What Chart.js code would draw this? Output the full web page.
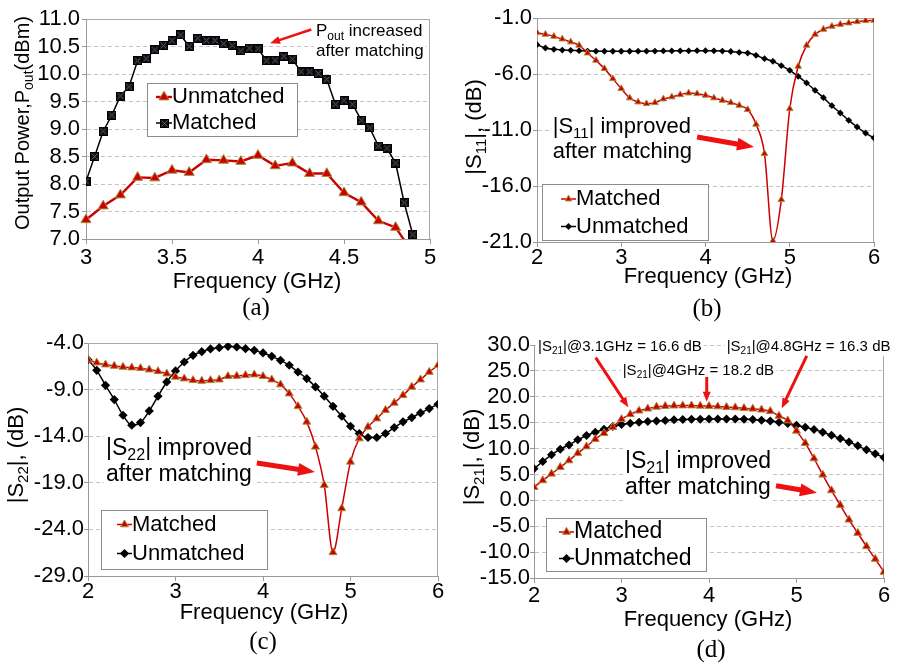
<!DOCTYPE html>
<html><head><meta charset="utf-8">
<script src="https://cdn.jsdelivr.net/npm/chart.js@4.4.1/dist/chart.umd.min.js"></script>
<style>
html,body{margin:0;padding:0;background:#fff}
body{width:899px;height:664px;position:relative;overflow:hidden}
canvas{position:absolute;display:block}
</style></head><body>
<canvas id="cA"></canvas><canvas id="cB"></canvas><canvas id="cC"></canvas><canvas id="cD"></canvas>
<script>
// ---------------- DATA ----------------
// (a) Output power vs frequency
const freqA_matched = [3.00,3.05,3.10,3.15,3.20,3.25,3.30,3.35,3.40,3.45,3.50,3.55,3.60,3.65,3.70,3.75,3.80,3.85,3.90,3.95,4.00,4.05,4.10,4.15,4.20,4.25,4.30,4.35,4.40,4.45,4.50,4.55,4.60,4.65,4.70,4.75,4.80,4.85,4.90];
const poutMatched = [8.05,8.50,8.96,9.25,9.60,9.77,10.24,10.28,10.44,10.52,10.61,10.71,10.50,10.65,10.61,10.61,10.55,10.52,10.42,10.47,10.46,10.24,10.25,10.32,10.27,10.04,10.04,10.01,9.90,9.45,9.52,9.45,9.16,9.02,8.69,8.65,8.38,7.66,7.08];
const freqA_unmatched = [3.0,3.1,3.2,3.3,3.4,3.5,3.6,3.7,3.8,3.9,4.0,4.1,4.2,4.3,4.4,4.5,4.6,4.7,4.8,4.9];
const poutUnmatched = [7.35,7.60,7.80,8.12,8.11,8.25,8.21,8.44,8.43,8.41,8.52,8.33,8.38,8.19,8.19,7.84,7.67,7.33,7.21,6.75];

// (b)-(d) S-parameters vs frequency
const freqS = [2.0,2.1,2.2,2.3,2.4,2.5,2.6,2.7,2.8,2.9,3.0,3.1,3.2,3.3,3.4,3.5,3.6,3.7,3.8,3.9,4.0,4.1,4.2,4.3,4.4,4.5,4.6,4.7,4.8,4.9,5.0,5.1,5.2,5.3,5.4,5.5,5.6,5.7,5.8,5.9,6.0];
const s11Matched = [-2.31,-2.46,-2.64,-2.88,-3.14,-3.44,-4.13,-4.78,-5.52,-6.42,-7.31,-8.14,-8.50,-8.65,-8.56,-8.23,-8.05,-7.85,-7.70,-7.76,-7.90,-8.14,-8.35,-8.56,-8.80,-9.18,-10.49,-13.11,-20.9,-17.22,-9.10,-5.32,-3.44,-2.46,-2.01,-1.74,-1.57,-1.45,-1.33,-1.24,-1.21];
const s11Unmatched = [-3.38,-3.68,-3.80,-3.86,-3.89,-3.92,-3.95,-3.96,-3.97,-3.97,-3.97,-3.97,-3.96,-3.96,-3.95,-3.94,-3.94,-3.93,-3.93,-3.92,-3.92,-3.93,-3.95,-3.99,-4.07,-4.13,-4.33,-4.63,-4.87,-5.26,-5.67,-6.21,-6.80,-7.46,-8.11,-8.83,-9.48,-10.14,-10.73,-11.27,-11.71];
const s22Matched = [-5.79,-6.11,-6.32,-6.46,-6.57,-6.64,-6.71,-6.86,-7.04,-7.29,-7.64,-7.82,-8.00,-8.07,-8.00,-7.93,-7.57,-7.54,-7.46,-7.39,-7.57,-7.93,-8.46,-9.43,-10.79,-12.46,-15.14,-19.25,-26.46,-21.75,-16.75,-14.25,-13.00,-12.11,-11.21,-10.43,-9.61,-8.71,-7.93,-7.11,-6.39];
const s22Unmatched = [-5.79,-6.93,-8.54,-10.07,-11.75,-12.82,-12.54,-11.29,-9.71,-8.18,-7.00,-6.04,-5.32,-4.93,-4.64,-4.50,-4.36,-4.43,-4.61,-4.79,-5.07,-5.43,-5.86,-6.39,-7.11,-7.82,-8.71,-9.71,-10.79,-11.86,-12.93,-13.71,-14.14,-14.14,-13.71,-13.07,-12.46,-12.00,-11.50,-11.04,-10.57];
const s21Matched = [2.55,3.84,5.12,6.41,7.69,9.11,10.39,11.81,12.96,14.12,15.66,16.6,17.3,17.7,18.05,18.2,18.28,18.3,18.3,18.25,18.2,18.12,18.0,17.93,17.8,17.68,17.5,17.22,16.3,15.41,13.42,11.04,8.08,4.93,1.91,-0.92,-3.75,-6.32,-8.89,-11.33,-13.84];
const s21Unmatched = [6.09,7.50,8.79,9.88,10.71,11.68,12.51,13.16,13.74,14.25,14.64,14.89,15.09,15.21,15.34,15.41,15.54,15.60,15.66,15.66,15.73,15.73,15.73,15.73,15.66,15.60,15.47,15.34,15.09,14.83,14.51,14.12,13.67,13.16,12.58,11.94,11.29,10.52,9.75,8.98,8.27];

// tick values / labels
const xTicksA = [3,3.5,4,4.5,5];
const xLabelsA = ['3','3.5','4','4.5','5'];
const yTicksA = [7,7.5,8,8.5,9,9.5,10,10.5,11];
const yLabelsA = ['7.0','7.5','8.0','8.5','9.0','9.5','10.0','10.5','11.0'];
const xTicksS = [2,3,4,5,6];
const xLabelsS = ['2','3','4','5','6'];
const yTicksB = [-21,-16,-11,-6,-1];
const yLabelsB = ['-21.0','-16.0','-11.0','-6.0','-1.0'];
const yTicksC = [-29,-24,-19,-14,-9,-4];
const yLabelsC = ['-29.0','-24.0','-19.0','-14.0','-9.0','-4.0'];
const yTicksD = [-15,-10,-5,0,5,10,15,20,25,30];
const yLabelsD = ['-15.0','-10.0','-5.0','0.0','5.0','10.0','15.0','20.0','25.0','30.0'];

// ---------------- STYLE / HELPERS ----------------
const SANS = "'Liberation Sans', Arial, Helvetica, sans-serif";
const SERIF = "'Liberation Serif', 'Times New Roman', serif";
Chart.defaults.font.family = SANS;
Chart.defaults.color = '#000';
const RED = '#cc0000', TRI_EDGE = '#a88a3a';

function crossSquare(n) {
  const c = document.createElement('canvas'); c.width = n; c.height = n;
  const g = c.getContext('2d');
  g.fillStyle = '#101018'; g.fillRect(0, 0, n, n);
  g.strokeStyle = '#5c5c5c'; g.lineWidth = 1;
  g.beginPath(); g.moveTo(1.5, 1.5); g.lineTo(n - 1.5, n - 1.5); g.moveTo(n - 1.5, 1.5); g.lineTo(1.5, n - 1.5); g.stroke();
  g.strokeStyle = '#000'; g.strokeRect(0.5, 0.5, n - 1, n - 1);
  return c;
}
const SQ = crossSquare(9);

function pts(xs, ys) { return xs.map((x, i) => ({x: x, y: ys[i]})); }

function redSet(label, data, r, lw, extra) {
  return Object.assign({label, data, borderColor: RED, backgroundColor: RED, borderWidth: lw,
    pointStyle: 'triangle', pointRadius: r, pointHoverRadius: r,
    pointBackgroundColor: RED, pointBorderColor: TRI_EDGE, pointBorderWidth: 1}, extra || {});
}
function blackSet(label, data, style, r, lw, extra) {
  return Object.assign({label, data, borderColor: '#000', backgroundColor: '#000', borderWidth: lw,
    pointStyle: style, pointRadius: r, pointHoverRadius: r,
    pointBackgroundColor: '#000', pointBorderColor: '#000', pointBorderWidth: 0}, extra || {});
}

function drawMarker(ctx, style, x, y, r, fill, stroke, bw) {
  ctx.save();
  if (style instanceof HTMLCanvasElement) {
    ctx.drawImage(style, Math.round(x - style.width / 2), Math.round(y - style.height / 2));
    ctx.restore(); return;
  }
  ctx.beginPath();
  if (style === 'triangle') {
    const a = 2 * Math.PI / 3;
    ctx.moveTo(x, y - r);
    ctx.lineTo(x + r * Math.sin(a), y - r * Math.cos(a));
    ctx.lineTo(x + r * Math.sin(2 * a), y - r * Math.cos(2 * a));
    ctx.closePath();
  } else {
    ctx.moveTo(x - r, y); ctx.lineTo(x, y - r); ctx.lineTo(x + r, y); ctx.lineTo(x, y + r); ctx.closePath();
  }
  ctx.fillStyle = fill; ctx.fill();
  if (bw) { ctx.lineWidth = bw; ctx.strokeStyle = stroke; ctx.stroke(); }
  ctx.restore();
}

function setF(ctx, size, sub, fam) { ctx.font = (sub ? Math.round(size * 0.68) : size) + 'px ' + (fam || SANS); }
function richWidth(ctx, parts, size, fam) {
  let w = 0;
  parts.forEach(p => { setF(ctx, size, p.sub, fam); w += ctx.measureText(p.t).width; });
  return w;
}
function drawRich(ctx, parts, x, y, size, align, rot, fam) {
  ctx.save();
  ctx.translate(x, y);
  if (rot) ctx.rotate(-Math.PI / 2);
  const w = richWidth(ctx, parts, size, fam);
  let cx = align === 'center' ? -w / 2 : 0;
  ctx.textBaseline = 'middle'; ctx.textAlign = 'left'; ctx.fillStyle = '#000';
  parts.forEach(p => {
    setF(ctx, size, p.sub, fam);
    ctx.fillText(p.t, cx, p.sub ? size * 0.3 : 0);
    cx += ctx.measureText(p.t).width;
  });
  ctx.restore();
  return w;
}
function arrow(ctx, x1, y1, x2, y2, w, hl, hw) {
  const ang = Math.atan2(y2 - y1, x2 - x1);
  const bx = x2 - hl * Math.cos(ang), by = y2 - hl * Math.sin(ang);
  ctx.save();
  ctx.strokeStyle = '#ee1111'; ctx.fillStyle = '#ee1111'; ctx.lineWidth = w; ctx.lineCap = 'butt';
  ctx.beginPath(); ctx.moveTo(x1, y1); ctx.lineTo(bx + Math.cos(ang), by + Math.sin(ang)); ctx.stroke();
  ctx.beginPath(); ctx.moveTo(x2, y2);
  ctx.lineTo(bx + hw / 2 * Math.sin(ang), by - hw / 2 * Math.cos(ang));
  ctx.lineTo(bx - hw / 2 * Math.sin(ang), by + hw / 2 * Math.cos(ang));
  ctx.closePath(); ctx.fill();
  ctx.restore();
}

function panelPlugin(p) {
  return {
    id: 'panel' + p.id,
    beforeDatasetsDraw(chart) {
      const ctx = chart.ctx, a = chart.chartArea;
      ctx.save();
      ctx.strokeStyle = '#a8a8a8'; ctx.lineWidth = 1;
      ctx.beginPath();
      if (!p.noTop) {
        ctx.moveTo(Math.round(a.left), Math.round(a.top) + 0.5); ctx.lineTo(Math.round(a.right), Math.round(a.top) + 0.5);
      }
      ctx.moveTo(Math.round(a.right) - 0.5, Math.round(a.top)); ctx.lineTo(Math.round(a.right) - 0.5, Math.round(a.bottom));
      ctx.stroke();
      ctx.restore();
      const xs = chart.scales.x, ys = chart.scales.y;
      (p.texts || []).forEach(t => {
        const x = xs.getPixelForValue(t.x), y = ys.getPixelForValue(t.y);
        const w = richWidth(ctx, t.parts, t.size);
        ctx.save(); ctx.fillStyle = '#fff';
        ctx.fillRect(x - 2, y - t.size * 0.62, w + 4, t.size * 1.24);
        ctx.restore();
        drawRich(ctx, t.parts, x, y, t.size, 'left', false);
      });
    },
    afterDatasetsDraw(chart) {
      const ctx = chart.ctx, xs = chart.scales.x, ys = chart.scales.y;
      (p.arrows || []).forEach(r => {
        arrow(ctx, xs.getPixelForValue(r.x1), ys.getPixelForValue(r.y1), xs.getPixelForValue(r.x2), ys.getPixelForValue(r.y2), r.w, r.hl, r.hw);
      });
      // legend
      const lg = p.legend, ox = p.cx, oy = p.cy;
      ctx.save();
      ctx.fillStyle = '#fff';
      ctx.fillRect(lg.box[0] - ox, lg.box[1] - oy, lg.box[2] - lg.box[0], lg.box[3] - lg.box[1]);
      ctx.strokeStyle = '#8c8c8c'; ctx.lineWidth = 1;
      ctx.strokeRect(Math.round(lg.box[0] - ox) + 0.5, Math.round(lg.box[1] - oy) + 0.5, Math.round(lg.box[2] - lg.box[0]), Math.round(lg.box[3] - lg.box[1]));
      lg.items.forEach(it => {
        const ds = chart.data.datasets[it.ds];
        const y = it.y - oy;
        ctx.strokeStyle = ds.borderColor; ctx.lineWidth = ds.borderWidth;
        ctx.beginPath(); ctx.moveTo(lg.x1 - ox, y); ctx.lineTo(lg.x2 - ox, y); ctx.stroke();
        drawMarker(ctx, ds.pointStyle, (lg.x1 + lg.x2) / 2 - ox, y, ds.pointRadius, ds.pointBackgroundColor, ds.pointBorderColor, ds.pointBorderWidth);
        ctx.fillStyle = '#000'; ctx.font = lg.size + 'px ' + SANS; ctx.textBaseline = 'middle'; ctx.textAlign = 'left';
        ctx.fillText(ds.label, lg.tx - ox, y);
      });
      ctx.restore();
    },
    afterDraw(chart) {
      const ctx = chart.ctx;
      drawRich(ctx, p.yTitle.parts, p.yTitle.x - p.cx, p.yTitle.y - p.cy, p.yTitle.size, 'center', true);
      drawRich(ctx, [{t: 'Frequency (GHz)'}], p.xTitle.x - p.cx, p.xTitle.y - p.cy, 22, 'center', false);
      drawRich(ctx, [{t: p.caption.t}], p.caption.x - p.cx, p.caption.y - p.cy, 25, 'center', false, SERIF);
    }
  };
}

function makePanel(p) {
  const cv = document.getElementById(p.id);
  cv.width = p.W; cv.height = p.H;
  cv.style.left = p.cx + 'px'; cv.style.top = p.cy + 'px';
  cv.style.width = p.W + 'px'; cv.style.height = p.H + 'px';
  const aL = p.L - p.cx, aT = p.T - p.cy, aR = p.R - p.cx, aB = p.B - p.cy;
  new Chart(cv, {
    type: 'line',
    data: {datasets: p.datasets},
    options: {
      responsive: false, animation: false, devicePixelRatio: 1,
      events: [],
      layout: {padding: {left: 0, top: aT, right: p.W - aR, bottom: 0}},
      plugins: {legend: {display: false}, tooltip: {enabled: false}, title: {display: false}},
      scales: {
        x: {
          type: 'linear', min: p.xMin, max: p.xMax,
          afterBuildTicks: s => { s.ticks = p.xTicks.map(v => ({value: v})); },
          afterFit: s => { s.height = p.H - aB; },
          grid: {drawOnChartArea: false, drawTicks: true, tickLength: 5, color: '#999', tickColor: '#999', tickBorderDash: []},
          border: {display: true, color: '#999', width: 1},
          ticks: {autoSkip: false, maxRotation: 0, minRotation: 0, padding: p.xPad, color: '#000',
                  font: {size: 22, lineHeight: 1}, callback: (v, i) => p.xLabels[i]}
        },
        y: {
          type: 'linear', min: p.yMin, max: p.yMax,
          afterBuildTicks: s => { s.ticks = p.yTicks.map(v => ({value: v})); },
          afterFit: s => { s.width = aL; },
          grid: {drawOnChartArea: true, drawTicks: true, tickLength: 4, color: '#c4c4c4', tickColor: '#999', tickBorderDash: []},
          border: {display: true, color: '#999', width: 1, dash: [4, 3]},
          ticks: {autoSkip: false, padding: p.yPad, color: '#000',
                  font: {size: 22, lineHeight: 1}, callback: (v, i) => p.yLabels[i]}
        }
      }
    },
    plugins: [panelPlugin(p)]
  });
}

// ---------------- PANELS ----------------
makePanel({
  id: 'cA', cx: 0, cy: 0, W: 450, H: 326, L: 86, T: 19, R: 430, B: 239,
  xMin: 3, xMax: 5, xTicks: xTicksA, xLabels: xLabelsA, xPad: 3,
  yMin: 7, yMax: 11, yTicks: yTicksA, yLabels: yLabelsA, yPad: 2,
  datasets: [
    redSet('Unmatched', pts(freqA_unmatched, poutUnmatched), 5.8, 2.4, {tension: 0, clip: {left: 10, top: 10, right: 10, bottom: 0}}),
    blackSet('Matched', pts(freqA_matched, poutMatched), SQ, 4.5, 1.5, {tension: 0})
  ],
  legend: {box: [147, 83, 297, 136], x1: 156, x2: 172, tx: 172, size: 22,
           items: [{ds: 0, y: 97}, {ds: 1, y: 123}]},
  yTitle: {parts: [{t: 'Output Power,P'}, {t: 'out', sub: true}, {t: '(dBm)'}], x: 23, y: 123, size: 20},
  xTitle: {x: 257, y: 282},
  caption: {t: '(a)', x: 256, y: 308},
  texts: [
    {x: 4.337, y: 10.78, size: 17, parts: [{t: 'P'}, {t: 'out', sub: true}, {t: ' increased'}]},
    {x: 4.337, y: 10.405, size: 17, parts: [{t: 'after matching'}]}
  ],
  arrows: [{x1: 4.31, y1: 10.81, x2: 4.07, y2: 10.56, w: 2.5, hl: 10, hw: 8}]
});

makePanel({
  id: 'cB', cx: 450, cy: 0, W: 449, H: 326, L: 537, T: 18, R: 874, B: 242,
  xMin: 2, xMax: 6, xTicks: xTicksS, xLabels: xLabelsS, xPad: 0,
  yMin: -21, yMax: -1, yTicks: yTicksB, yLabels: yLabelsB, yPad: 1,
  datasets: [
    redSet('Matched', pts(freqS, s11Matched), 3.8, 1.5, {cubicInterpolationMode: 'monotone'}),
    blackSet('Unmatched', pts(freqS, s11Unmatched), 'rectRot', 3.4, 1.5, {cubicInterpolationMode: 'monotone'})
  ],
  legend: {box: [542, 184, 708, 240], x1: 561, x2: 576, tx: 576, size: 22,
           items: [{ds: 0, y: 199}, {ds: 1, y: 226.5}]},
  yTitle: {parts: [{t: '|S'}, {t: '11', sub: true}, {t: '|, (dB)'}], x: 475, y: 127, size: 22},
  xTitle: {x: 708, y: 277},
  caption: {t: '(b)', x: 707, y: 309},
  texts: [
    {x: 2.186, y: -10.73, size: 22, parts: [{t: '|S'}, {t: '11', sub: true}, {t: '| improved'}]},
    {x: 2.186, y: -12.96, size: 22, parts: [{t: 'after matching'}]}
  ],
  arrows: [{x1: 3.90, y1: -11.63, x2: 4.576, y2: -12.52, w: 5, hl: 17, hw: 13}]
});

makePanel({
  id: 'cC', cx: 0, cy: 326, W: 450, H: 338, L: 88, T: 343, R: 438, B: 576,
  xMin: 2, xMax: 6, xTicks: xTicksS, xLabels: xLabelsS, xPad: 0,
  yMin: -29, yMax: -4, yTicks: yTicksC, yLabels: yLabelsC, yPad: 0,
  datasets: [
    redSet('Matched', pts(freqS, s22Matched), 4.6, 1.5, {cubicInterpolationMode: 'monotone'}),
    blackSet('Unmatched', pts(freqS, s22Unmatched), 'rectRot', 4.6, 1.5, {cubicInterpolationMode: 'monotone'})
  ],
  legend: {box: [101, 510, 267, 569], x1: 117, x2: 132, tx: 132, size: 22,
           items: [{ds: 0, y: 524.5}, {ds: 1, y: 553.5}]},
  yTitle: {parts: [{t: '|S'}, {t: '22', sub: true}, {t: '|, (dB)'}], x: 17, y: 455, size: 22},
  xTitle: {x: 264, y: 613},
  caption: {t: '(c)', x: 263, y: 642},
  texts: [
    {x: 2.206, y: -15.37, size: 23, parts: [{t: '|S'}, {t: '22', sub: true}, {t: '| improved'}]},
    {x: 2.206, y: -18.16, size: 23, parts: [{t: 'after matching'}]}
  ],
  arrows: [{x1: 3.93, y1: -16.88, x2: 4.594, y2: -17.84, w: 5, hl: 17, hw: 13}]
});

makePanel({
  id: 'cD', cx: 450, cy: 326, W: 449, H: 338, L: 534, T: 345, R: 884, B: 578, noTop: true,
  xMin: 2, xMax: 6, xTicks: xTicksS, xLabels: xLabelsS, xPad: 2,
  yMin: -15, yMax: 30, yTicks: yTicksD, yLabels: yLabelsD, yPad: 0,
  datasets: [
    redSet('Matched', pts(freqS, s21Matched), 4.6, 1.5, {cubicInterpolationMode: 'monotone'}),
    blackSet('Unmatched', pts(freqS, s21Unmatched), 'rectRot', 4.5, 1.5, {cubicInterpolationMode: 'monotone'})
  ],
  legend: {box: [546, 518, 706, 571], x1: 559, x2: 574, tx: 574, size: 23,
           items: [{ds: 0, y: 532}, {ds: 1, y: 558.5}]},
  yTitle: {parts: [{t: '|S'}, {t: '21', sub: true}, {t: '|, (dB)'}], x: 473, y: 457, size: 22},
  xTitle: {x: 708, y: 620},
  caption: {t: '(d)', x: 711, y: 650},
  texts: [
    {x: 3.04, y: 7.5, size: 23, parts: [{t: '|S'}, {t: '21', sub: true}, {t: '| improved'}]},
    {x: 3.04, y: 2.42, size: 23, parts: [{t: 'after matching'}]},
    {x: 2.046, y: 29.67, size: 15, parts: [{t: '|S'}, {t: '21', sub: true}, {t: '|@3.1GHz = 16.6 dB'}]},
    {x: 4.202, y: 29.67, size: 15, parts: [{t: '|S'}, {t: '21', sub: true}, {t: '|@4.8GHz = 16.3 dB'}]},
    {x: 3.014, y: 25.04, size: 15, parts: [{t: '|S'}, {t: '21', sub: true}, {t: '|@4GHz = 18.2 dB'}]}
  ],
  arrows: [
    {x1: 4.766, y1: 2.81, x2: 5.234, y2: 1.46, w: 5, hl: 17, hw: 13},
    {x1: 2.705, y1: 27.55, x2: 3.078, y2: 17.98, w: 3, hl: 10, hw: 8},
    {x1: 3.974, y1: 23.83, x2: 3.974, y2: 19.06, w: 3, hl: 10, hw: 8},
    {x1: 5.117, y1: 27.88, x2: 4.831, y2: 17.79, w: 3, hl: 10, hw: 8}
  ]
});
</script></body></html>
